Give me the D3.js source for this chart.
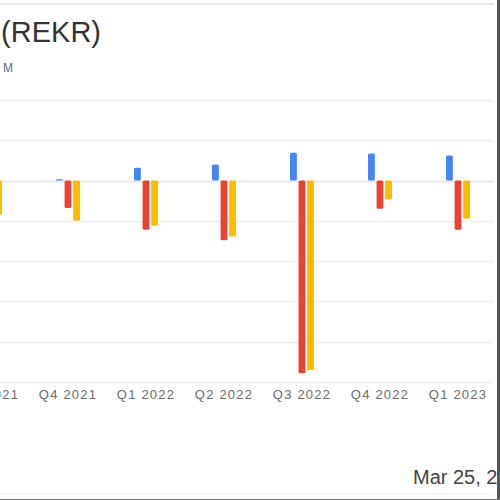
<!DOCTYPE html>
<html>
<head>
<meta charset="utf-8">
<script src="https://cdn.jsdelivr.net/npm/d3@7"></script>
<style>
  body { margin: 0; background: #fff; }
  svg { display: block; font-family: Arial, "Liberation Sans", sans-serif; }
</style>
</head>
<body>
<script>
// quarters shown on the axis (first one is cut off at the left edge)
const quarters = ['Q3 2021', 'Q4 2021', 'Q1 2022', 'Q2 2022', 'Q3 2022', 'Q4 2022', 'Q1 2023'];
const seriesNames = ['Revenue', 'Net Income', 'Free Cash Flow'];
const revenue = [0.5, 0.3, 3.2, 4.0, 6.9, 6.7, 6.2];
const netIncome = [-9.0, -6.8, -12.2, -14.8, -47.8, -7.0, -12.2];
const freeCashFlow = [-8.5, -10.0, -11.2, -13.9, -47.0, -4.7, -9.5];
const yTicks = [20, 10, 0, -10, -20, -30, -40, -50];

const colors = ['#4285F4', '#EA4335', '#FBBC04'];
const width = 500, height = 500;

const svg = d3.select('body').append('svg')
  .attr('width', width)
  .attr('height', height);

const x = d3.scaleBand()
  .domain(quarters)
  .range([-49, 497]);

const xSub = d3.scaleBand()
  .domain(seriesNames)
  .range([-12, 12])
  .paddingInner(0.2);

const y = d3.scaleLinear()
  .domain([-50, 20])
  .range([382, 100]);

// frame lines
svg.append('line')
  .attr('x1', 0).attr('x2', 494).attr('y1', 4).attr('y2', 4)
  .attr('stroke', '#e6e6e6').attr('stroke-width', 2);
svg.append('line')
  .attr('x1', 0).attr('x2', 494).attr('y1', 494).attr('y2', 494)
  .attr('stroke', '#eeeeee').attr('stroke-width', 1);

// grid
svg.append('g')
  .selectAll('line')
  .data(yTicks)
  .enter()
  .append('line')
  .attr('x1', 0)
  .attr('x2', 494)
  .attr('y1', d => Math.round(y(d)) + 0.5)
  .attr('y2', d => Math.round(y(d)) + 0.5)
  .attr('stroke', d => d === 0 ? '#e4e4e8' : '#eeeeee')
  .attr('stroke-width', 1.5);

// bars
const rows = quarters.map((q, i) => ({
  q: q,
  values: [revenue[i], netIncome[i], freeCashFlow[i]]
}));

const groups = svg.append('g')
  .selectAll('g')
  .data(rows)
  .enter()
  .append('g')
  .attr('transform', d => `translate(${x(d.q) + x.bandwidth() / 2},0)`);

groups.selectAll('rect')
  .data(d => d.values.map((v, i) => ({ name: seriesNames[i], v: v, i: i })))
  .enter()
  .append('rect')
  .attr('x', d => xSub(d.name))
  .attr('width', xSub.bandwidth())
  .attr('y', d => y(Math.max(0, d.v)))
  .attr('height', d => Math.abs(y(d.v) - y(0)))
  .attr('rx', 1.5)
  .attr('fill', d => colors[d.i]);

// x axis labels
const xAxis = svg.append('g')
  .attr('transform', 'translate(0,386)')
  .call(d3.axisBottom(x).tickSize(0).tickPadding(4));
xAxis.select('.domain').remove();
xAxis.selectAll('text')
  .attr('fill', '#6b6b6b')
  .style('font-size', '13px')
  .style('letter-spacing', '1.2px');

// title pieces (the chart is cropped)
svg.append('text')
  .attr('x', 101)
  .attr('y', 42)
  .attr('text-anchor', 'end')
  .attr('fill', '#333')
  .style('font-size', '29px')
  .text('Systems Inc (REKR)');

svg.append('text')
  .attr('x', 13)
  .attr('y', 72)
  .attr('text-anchor', 'end')
  .attr('fill', '#5f5f8f')
  .style('font-size', '12px')
  .text('USD M');

svg.append('text')
  .attr('x', 413)
  .attr('y', 484)
  .attr('fill', '#444')
  .style('font-size', '20px')
  .text('Mar 25, 2024');

// right and bottom border
svg.append('line')
  .attr('x1', 498.5).attr('x2', 498.5).attr('y1', 0).attr('y2', 500)
  .attr('stroke', '#555').attr('stroke-width', 3);
svg.append('line')
  .attr('x1', 0).attr('x2', 500).attr('y1', 499.5).attr('y2', 499.5)
  .attr('stroke', '#777').attr('stroke-width', 1);
</script>
</body>
</html>
